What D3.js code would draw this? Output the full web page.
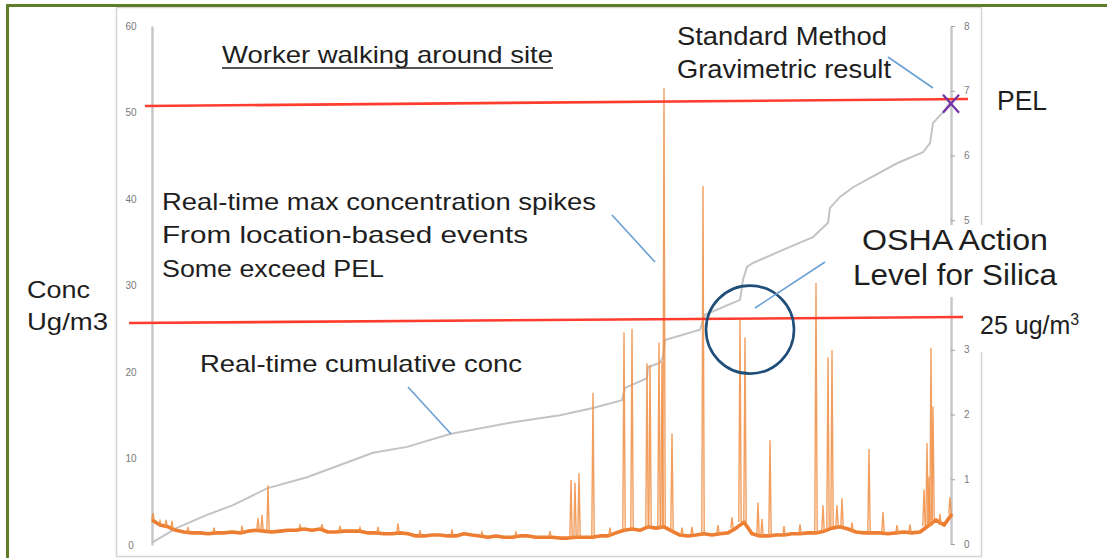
<!DOCTYPE html>
<html>
<head>
<meta charset="utf-8">
<script src="https://d3js.org/d3.v7.min.js"></script>
<style>
  body { margin: 0; background: #fff; }
  text { font-family: "Liberation Sans", Arial, sans-serif; }
</style>
</head>
<body>
<svg width="1107" height="558"></svg>
<script>
// sample index (time) 0..800, left axis ug/m3, right axis cumulative
var leftTicks = [0, 10, 20, 30, 40, 50, 60];
var rightTicks = [0, 1, 2, 3, 4, 5, 6, 7, 8];

// real-time concentration, one reading every 8 samples
var baseStep = 8;
var baseConc = [2.9, 2.3, 2.1, 1.7, 1.5, 1.4, 1.4, 1.3, 1.4, 1.4, 1.5, 1.4, 1.6, 1.7, 1.6, 1.5,
  1.6, 1.7, 1.7, 1.85, 1.7, 1.85, 1.5, 1.5, 1.6, 1.6, 1.6, 1.4, 1.4, 1.3, 1.3, 1.4, 1.3,
  1.05, 1.05, 1.15, 1.15, 1.05, 1.05, 1.3, 1.15, 1.05, 0.9, 1.05, 0.9, 0.9, 1.05, 1.05,
  0.9, 0.9, 0.9, 0.8, 0.8, 0.9, 0.9, 0.9, 1.05, 1.05, 1.4, 1.7, 1.85, 1.7, 2.1, 1.95, 2.1,
  1.6, 1.15, 1.05, 1.15, 1.3, 1.15, 1.3, 1.4, 1.95, 2.65, 1.3, 1.05, 1.05, 1.15, 1.15,
  1.3, 1.3, 1.4, 1.4, 1.6, 1.95, 2.1, 1.85, 1.5, 1.4, 1.4, 1.4, 1.3, 1.4, 1.5, 1.4, 1.5,
  2.2, 2.9, 2.3, 3.6];

// location-based max concentration spikes [sample, ug/m3]
var spikes = [[1, 3.7], [8, 2.8], [14, 2.9], [20, 2.8], [36, 2.1], [62, 2.0], [90, 2.2],
  [106, 3.1], [110, 3.5], [116, 6.9], [148, 2.3], [170, 2.4], [188, 2.2], [208, 2.0],
  [226, 2.1], [246, 2.5], [268, 1.7], [300, 1.8], [330, 1.5], [364, 1.5], [398, 1.6],
  [419, 7.5], [423, 7.2], [427, 8.3], [441, 17.6], [458, 2.0], [472, 24.6],
  [480, 25.0], [495, 21.0], [498, 20.8], [507, 23.4], [510, 21.2], [512, 52.8], [520, 12.9],
  [530, 2.0], [540, 2.1], [551, 41.5], [566, 2.3], [580, 3.2], [588, 26.0], [593, 24.0],
  [606, 4.9], [610, 3.0], [618, 12.1], [632, 2.2], [648, 2.4], [664, 30.3],
  [671, 4.6], [676, 21.7], [680, 22.5], [685, 4.6], [690, 5.4], [700, 2.6], [717, 11.1],
  [731, 3.8], [745, 2.3], [758, 2.4], [772, 6.4], [775, 11.8], [777, 7.9], [779, 22.8],
  [781, 16.0], [788, 3.6], [798, 5.5]];

// cumulative concentration (right axis)
var cumT = [0, 25, 55, 81, 115, 155, 188, 221, 255, 298, 361, 408, 441, 470, 473, 495, 496,
  508, 511, 513, 548, 553, 588, 591, 595, 601, 638, 661, 665, 676, 678, 688, 701, 745, 771,
  778, 781, 791, 799];
var cumV = [0.02, 0.25, 0.45, 0.6, 0.86, 1.03, 1.22, 1.41, 1.5, 1.7, 1.88, 1.99, 2.1, 2.22,
  2.41, 2.56, 2.73, 2.8, 2.89, 3.15, 3.31, 3.54, 3.77, 4.08, 4.28, 4.34, 4.59, 4.74, 4.8,
  4.96, 5.19, 5.36, 5.51, 5.88, 6.05, 6.19, 6.5, 6.67, 6.84];

// reference lines drawn across the chart [sample, ug/m3]
var pelLine = [[-7, 50.75], [816, 51.56]];
var actionLine = [[-23, 25.66], [811, 26.36]];
var gravimetric = [799, 6.8];   // right axis
var actionCircle = [598, 24.9];

var svg = d3.select("svg");
var x = d3.scaleLinear().domain([0, 800]).range([152, 952]);
var yL = d3.scaleLinear().domain([0, 60]).range([545, 26]);
var yR = d3.scaleLinear().domain([0, 8]).range([544, 26]);

// slide frame
svg.append("rect").attr("x", 116.5).attr("y", 7.5).attr("width", 865).attr("height", 549)
  .attr("fill", "none").attr("stroke", "#d4d4d4").attr("stroke-width", 1.5);
svg.append("rect").attr("x", 6).attr("y", 4).attr("width", 1107).attr("height", 3).attr("fill", "#5e7d26");
svg.append("rect").attr("x", 6).attr("y", 4).attr("width", 3).attr("height", 560).attr("fill", "#5e7d26");

// axes
var gl = svg.append("g").attr("transform", "translate(152,0)")
  .call(d3.axisLeft(yL).tickValues(leftTicks).tickSize(0).tickPadding(14));
gl.select(".domain").attr("stroke", "#c8c8c8").attr("stroke-width", 2.5);
gl.selectAll("text").attr("x", -21).attr("text-anchor", "middle")
  .attr("fill", "#7a7a7a").style("font-size", "10px");

// label 4 sits under the OSHA note in the slide
var gr = svg.append("g").attr("transform", "translate(951,0)")
  .call(d3.axisRight(yR).tickValues(rightTicks).tickSize(4).tickSizeOuter(0).tickPadding(9)
    .tickFormat(function(d) { return d === 4 ? "" : d; }));
gr.select(".domain").attr("stroke", "#c8c8c8").attr("stroke-width", 2.5);
gr.selectAll(".tick line").attr("stroke", "#a0a0a0");
gr.selectAll("text").attr("fill", "#7a7a7a").style("font-size", "10px");

// cumulative line
var cum = cumT.map(function(t, i) { return [t, cumV[i]]; });
svg.append("path").datum(cum)
  .attr("fill", "none").attr("stroke", "#c3c3c3").attr("stroke-width", 2)
  .attr("d", d3.line().x(function(d) { return x(d[0]); }).y(function(d) { return yR(d[1]); }));

// real-time concentration
var base = baseConc.map(function(v, i) { return [i * baseStep, v]; });
svg.append("path").datum(base)
  .attr("fill", "none").attr("stroke", "#ed7d31").attr("stroke-width", 3.6)
  .attr("stroke-linejoin", "round")
  .attr("d", d3.line().x(function(d) { return x(d[0]); }).y(function(d) { return yL(d[1]); }));

svg.append("g").selectAll("path").data(spikes).enter().append("path")
  .attr("fill", "none").attr("stroke", "#f08d42").attr("stroke-width", 1.4)
  .attr("stroke-opacity", 0.85)
  .attr("d", function(d) {
    var lo = baseConc[Math.min(baseConc.length - 1, Math.round(d[0] / baseStep))];
    return "M" + x(d[0] - 1.2) + "," + yL(lo) + "L" + x(d[0]) + "," + yL(d[1]) +
      "L" + x(d[0] + 1.2) + "," + yL(lo);
  });

// PEL and action level
[pelLine, actionLine].forEach(function(l) {
  svg.append("path").datum(l)
    .attr("fill", "none").attr("stroke", "#ff3d2e").attr("stroke-width", 2.6)
    .attr("d", d3.line().x(function(d) { return x(d[0]); }).y(function(d) { return yL(d[1]); }));
});

// gravimetric X
var gx = x(gravimetric[0]), gy = yR(gravimetric[1]);
svg.append("path").attr("d", "M" + (gx - 8) + "," + (gy - 9) + "L" + (gx + 8) + "," + (gy + 9) +
  "M" + (gx + 8) + "," + (gy - 9) + "L" + (gx - 8) + "," + (gy + 9))
  .attr("stroke", "#7431a6").attr("stroke-width", 2.2).attr("fill", "none");

// action circle
svg.append("circle").attr("cx", x(actionCircle[0])).attr("cy", yL(actionCircle[1])).attr("r", 44)
  .attr("fill", "none").attr("stroke", "#1f4e79").attr("stroke-width", 2.6);

// callout leaders
var leaders = [[888, 57, 933, 88], [612, 215, 655, 262], [408, 387, 451, 434], [825, 262, 755, 308]];
svg.append("g").selectAll("line").data(leaders).enter().append("line")
  .attr("x1", function(d) { return d[0]; }).attr("y1", function(d) { return d[1]; })
  .attr("x2", function(d) { return d[2]; }).attr("y2", function(d) { return d[3]; })
  .attr("stroke", "#6a9fd4").attr("stroke-width", 1.6);

// white boxes behind the right-hand labels
svg.append("rect").attr("x", 850).attr("y", 225).attr("width", 212).attr("height", 72).attr("fill", "#fff");
svg.append("rect").attr("x", 970).attr("y", 297).attr("width", 125).attr("height", 55).attr("fill", "#fff");

// labels: text, x, baseline, size, width
var labels = [
  ["Worker walking around site", 222, 63, 24, 331],
  ["Standard Method", 677, 45, 26, 210],
  ["Gravimetric result", 677, 78, 26, 214],
  ["PEL", 997, 110, 27, 50],
  ["Real-time max concentration spikes", 162, 210, 24, 434],
  ["From location-based events", 162, 243, 24, 366],
  ["Some exceed PEL", 162, 277, 24, 222],
  ["OSHA Action", 862, 250, 29, 186],
  ["Level for Silica", 853, 285, 29, 204],
  ["Conc", 27, 298, 24, 63],
  ["Ug/m3", 27, 330, 24, 81],
  ["Real-time cumulative conc", 200, 372, 24, 322]
];
svg.append("g").selectAll("text").data(labels).enter().append("text")
  .attr("x", function(d) { return d[1]; }).attr("y", function(d) { return d[2]; })
  .style("font-size", function(d) { return d[3] + "px"; })
  .attr("textLength", function(d) { return d[4]; })
  .attr("lengthAdjust", "spacingAndGlyphs")
  .attr("fill", "#1e1e1e")
  .text(function(d) { return d[0]; });

svg.append("line").attr("x1", 222).attr("x2", 553).attr("y1", 68).attr("y2", 68)
  .attr("stroke", "#1e1e1e").attr("stroke-width", 1.5);

var t25 = svg.append("text").attr("x", 980).attr("y", 334).attr("fill", "#1e1e1e").style("font-size", "25px");
t25.append("tspan").text("25 ug/m");
t25.append("tspan").attr("dy", -9).style("font-size", "16px").text("3");
</script>
</body>
</html>
